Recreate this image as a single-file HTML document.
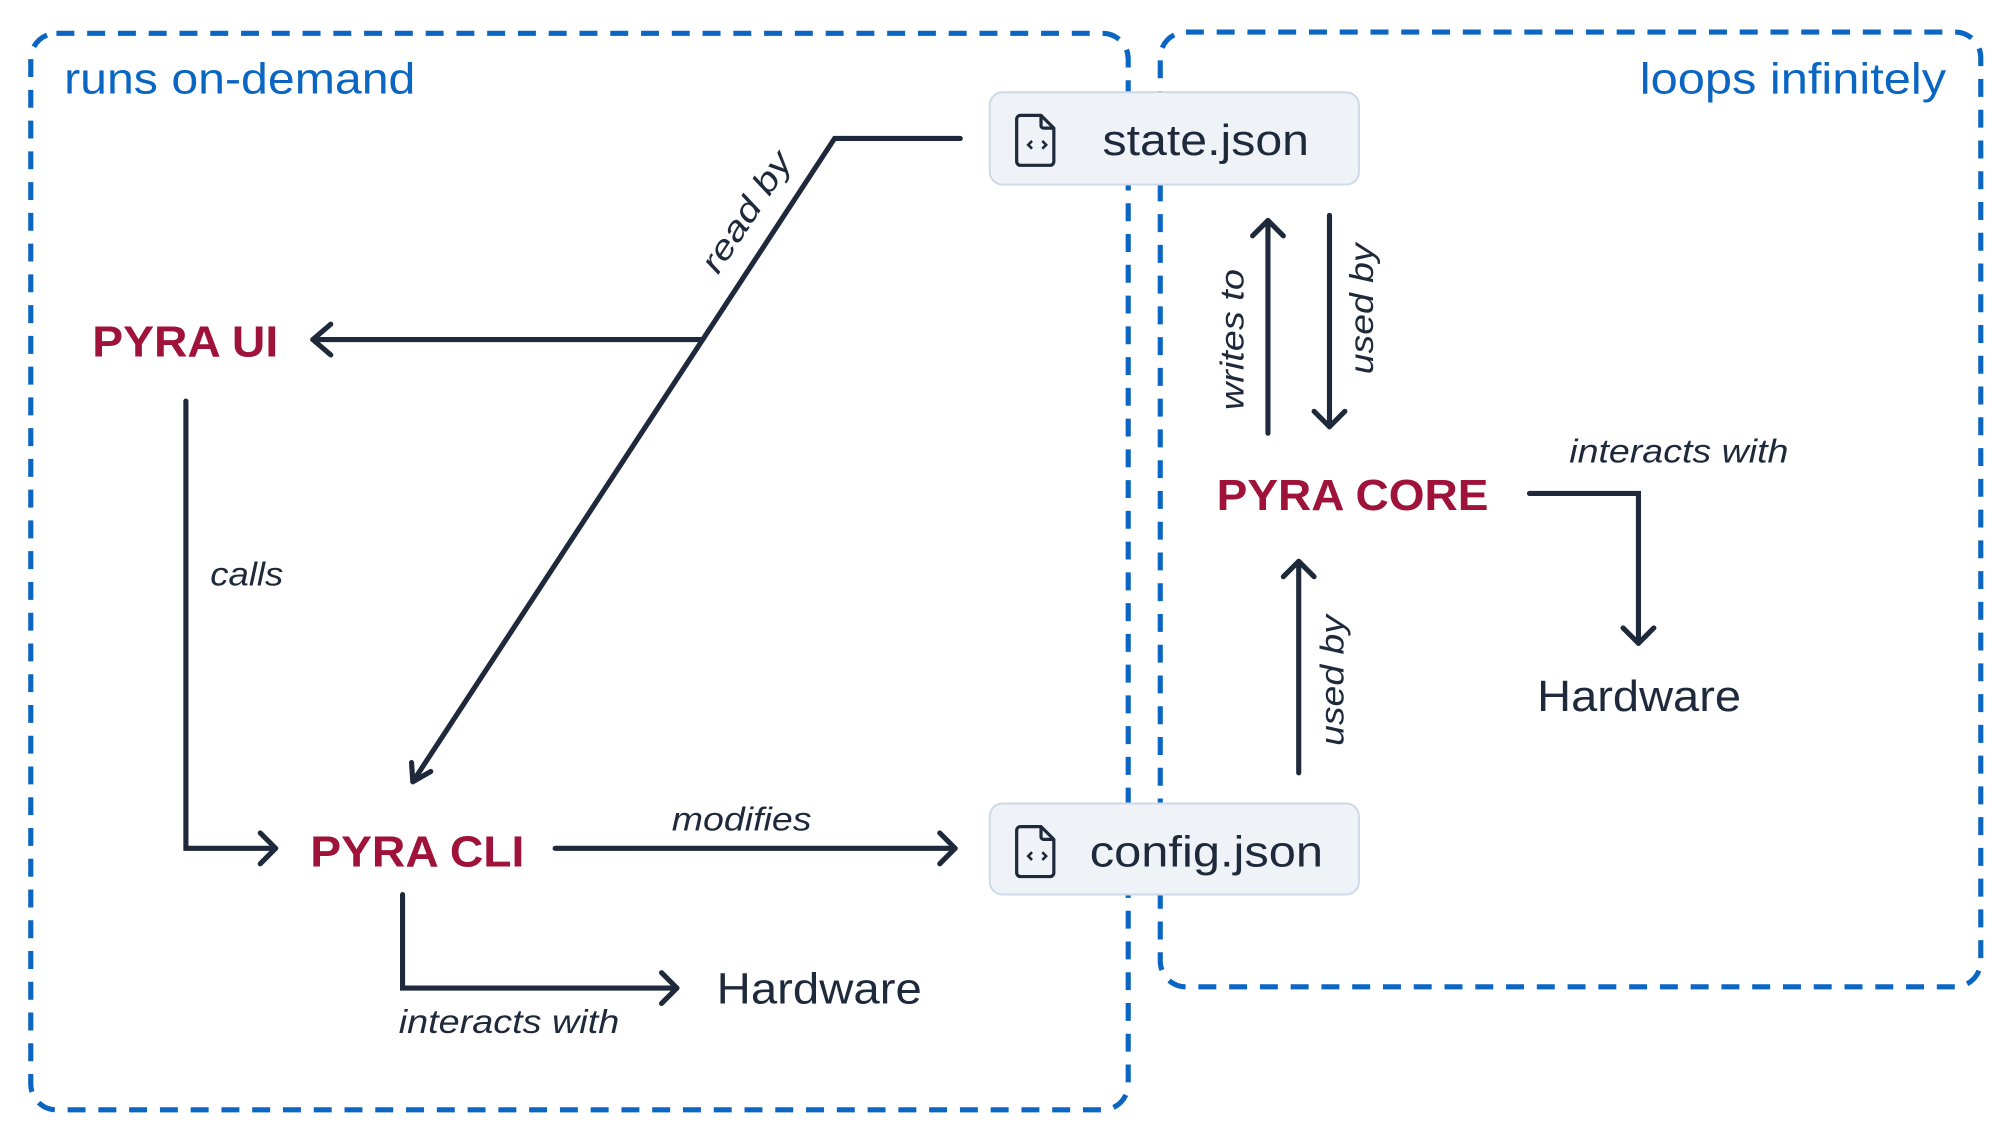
<!DOCTYPE html>
<html><head><meta charset="utf-8"><style>
html,body{margin:0;padding:0;background:#fff;}
svg{display:block}
text{font-family:"Liberation Sans",sans-serif;}
.lbl{font-style:italic;font-size:26px;fill:#1e293b;}
.node{font-weight:bold;font-size:34px;fill:#9f1239;}
.hw{font-size:34px;fill:#1e293b;font-weight:500}
.ln{fill:none;stroke:#1e293b;stroke-width:4;stroke-linecap:round;stroke-linejoin:miter}
.ah{fill:none;stroke:#1e293b;stroke-width:4;stroke-linecap:round;stroke-linejoin:round}
</style></head><body>
<svg width="2000" height="1138" viewBox="0 0 1560 888" preserveAspectRatio="none" xmlns="http://www.w3.org/2000/svg">
<rect x="24" y="26" width="856" height="840" rx="20" fill="none" stroke="#0a66c2" stroke-width="4" stroke-dasharray="14 10"/>
<rect x="905" y="25" width="640" height="745" rx="20" fill="none" stroke="#0a66c2" stroke-width="4" stroke-dasharray="14 10"/>
<text x="50" y="73" font-size="34" fill="#0a66c2" textLength="274" lengthAdjust="spacingAndGlyphs">runs on-demand</text>
<text x="1279" y="73" font-size="34" fill="#0a66c2" textLength="239" lengthAdjust="spacingAndGlyphs">loops infinitely</text>

<g>
<rect x="772" y="72" width="288" height="72" rx="10" fill="#eff3f8" stroke="#cfd8e6" stroke-width="1.5"/>
<path d="M796 90 h16 l10 10 v26 a3 3 0 0 1 -3 3 h-23 a3 3 0 0 1 -3 -3 v-33 a3 3 0 0 1 3 -3z M812 90 v8 a2 2 0 0 0 2 2 h8" fill="none" stroke="#1e293b" stroke-width="2.5" stroke-linejoin="round"/>
<path d="M805 110 l-3 3 l3 3 M813 110 l3 3 l-3 3" fill="none" stroke="#1e293b" stroke-width="2"/>
<text x="860" y="121" font-size="34" fill="#1e293b" textLength="161" lengthAdjust="spacingAndGlyphs">state.json</text>
</g>
<g>
<rect x="772" y="627" width="288" height="71" rx="10" fill="#eff3f8" stroke="#cfd8e6" stroke-width="1.5"/>
<path d="M796 645 h16 l10 10 v26 a3 3 0 0 1 -3 3 h-23 a3 3 0 0 1 -3 -3 v-33 a3 3 0 0 1 3 -3z M812 645 v8 a2 2 0 0 0 2 2 h8" fill="none" stroke="#1e293b" stroke-width="2.5" stroke-linejoin="round"/>
<path d="M805 665 l-3 3 l3 3 M813 665 l3 3 l-3 3" fill="none" stroke="#1e293b" stroke-width="2"/>
<text x="850" y="676" font-size="34" fill="#1e293b" textLength="182" lengthAdjust="spacingAndGlyphs">config.json</text>
</g>

<text x="72" y="278" class="node" textLength="145" lengthAdjust="spacingAndGlyphs">PYRA UI</text>
<text x="242" y="676" class="node" textLength="167" lengthAdjust="spacingAndGlyphs">PYRA CLI</text>
<text x="949" y="398" class="node" textLength="212" lengthAdjust="spacingAndGlyphs">PYRA CORE</text>
<text x="559" y="783" class="hw" textLength="160" lengthAdjust="spacingAndGlyphs">Hardware</text>
<text x="1199" y="555" class="hw" textLength="159" lengthAdjust="spacingAndGlyphs">Hardware</text>

<polyline class="ln" points="749,108 651,108 322,610"/>
<polyline class="ah" points="321,595 322,610 336,602"/>
<line class="ln" x1="548" y1="265" x2="244" y2="265"/>
<polyline class="ah" points="258,253 244,265 258,277"/>
<text class="lbl" transform="translate(560,215) rotate(-56.8)" textLength="107" lengthAdjust="spacingAndGlyphs">read by</text>

<polyline class="ln" points="145,313 145,662 215,662"/>
<polyline class="ah" points="203,650 215,662 203,674"/>
<text class="lbl" x="164" y="457" textLength="57" lengthAdjust="spacingAndGlyphs">calls</text>

<line class="ln" x1="433" y1="662" x2="745" y2="662"/>
<polyline class="ah" points="733,650 745,662 733,674"/>
<text class="lbl" x="524" y="648" textLength="109" lengthAdjust="spacingAndGlyphs">modifies</text>

<polyline class="ln" points="314,698 314,771 528,771"/>
<polyline class="ah" points="516,759 528,771 516,783"/>
<text class="lbl" x="311" y="806" textLength="172" lengthAdjust="spacingAndGlyphs">interacts with</text>

<line class="ln" x1="989" y1="338" x2="989" y2="172"/>
<polyline class="ah" points="977,184 989,172 1001,184"/>
<text class="lbl" transform="translate(970,320) rotate(-90)" textLength="110" lengthAdjust="spacingAndGlyphs">writes to</text>

<line class="ln" x1="1037" y1="168" x2="1037" y2="333"/>
<polyline class="ah" points="1025,321 1037,333 1049,321"/>
<text class="lbl" transform="translate(1071,292) rotate(-90)" textLength="102" lengthAdjust="spacingAndGlyphs">used by</text>

<line class="ln" x1="1013" y1="603" x2="1013" y2="438"/>
<polyline class="ah" points="1001,450 1013,438 1025,450"/>
<text class="lbl" transform="translate(1048,582) rotate(-90)" textLength="102" lengthAdjust="spacingAndGlyphs">used by</text>

<polyline class="ln" points="1193,385 1278,385 1278,502"/>
<polyline class="ah" points="1266,490 1278,502 1290,490"/>
<text class="lbl" x="1224" y="361" textLength="171" lengthAdjust="spacingAndGlyphs">interacts with</text>
</svg>
</body></html>
